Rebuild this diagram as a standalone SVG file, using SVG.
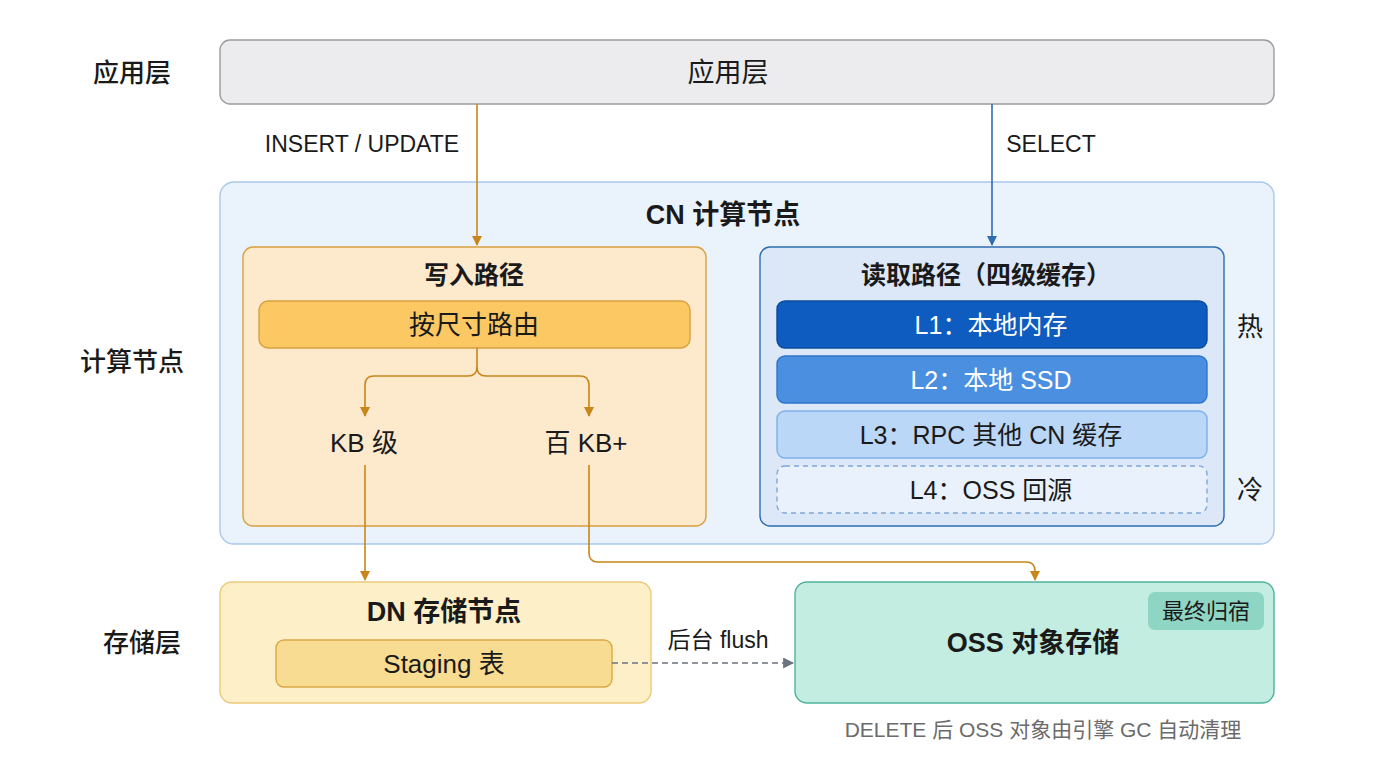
<svg xmlns="http://www.w3.org/2000/svg" width="1376" height="768" viewBox="0 0 1376 768">
<style>
text{font-family:"Liberation Sans","Noto Sans CJK SC",sans-serif;text-anchor:middle;dominant-baseline:central;fill:#1a1a1a}
.side{font-size:26px;font-weight:500}
.lbl{font-size:23px}
.title{font-size:27px;font-weight:600}
.sub{font-size:25px;font-weight:600}
.item{font-size:26px}
.li{font-size:25px}
.w{fill:#ffffff}
.orange{fill:none;stroke:#c8861a;stroke-width:1.6}
.blue{fill:none;stroke:#2f6cb0;stroke-width:1.6}
</style>
<defs>
<marker id="ao" viewBox="0 0 10 10" refX="9" refY="5" markerWidth="10" markerHeight="10" markerUnits="userSpaceOnUse" orient="auto"><path d="M0,0 L10,5 L0,10 z" fill="#c8861a"/></marker>
<marker id="ab" viewBox="0 0 10 10" refX="9" refY="5" markerWidth="10" markerHeight="10" markerUnits="userSpaceOnUse" orient="auto"><path d="M0,0 L10,5 L0,10 z" fill="#2f6cb0"/></marker>
<marker id="ag" viewBox="0 0 10 10" refX="9" refY="5" markerWidth="11" markerHeight="11" markerUnits="userSpaceOnUse" orient="auto"><path d="M0,0 L10,5 L0,10 z" fill="#6b7280"/></marker>
</defs>
<rect width="1376" height="768" fill="#ffffff"/>
<g id="side-labels">
<text class="side" x="132" y="73">应用层</text>
<text class="side" x="132" y="362">计算节点</text>
<text class="side" x="142" y="643">存储层</text>
</g>
<g id="app">
<rect x="220" y="40" width="1054" height="64" rx="10" fill="#ececee" stroke="#9a9ca0" stroke-width="1.4"/>
<text x="728" y="73" style="font-size:27px">应用层</text>
</g>
<g id="cn">
<rect x="220" y="182" width="1054" height="362" rx="14" fill="#eaf3fc" stroke="#a9c9ea" stroke-width="1.4"/>
<text class="title" x="723" y="215">CN 计算节点</text>
</g>
<g id="write">
<rect x="243" y="247" width="463" height="279" rx="10" fill="#fde9cc" stroke="#d9a040" stroke-width="1.4"/>
<text class="sub" x="474" y="275">写入路径</text>
</g>
<g id="route">
<rect x="259" y="301" width="431" height="47" rx="9" fill="#fbc863" stroke="#d9a040" stroke-width="1.4"/>
<text class="item" x="474" y="325">按尺寸路由</text>
</g>
<g id="kb"><text class="item" x="364" y="443">KB 级</text></g>
<g id="hkb"><text class="item" x="586" y="443">百 KB+</text></g>
<g id="read">
<rect x="760" y="247" width="464" height="279" rx="10" fill="#dce8f8" stroke="#2f6cb0" stroke-width="1.4"/>
<text class="sub" x="986" y="275">读取路径（四级缓存）</text>
</g>
<g id="l1">
<rect x="777" y="301" width="430" height="47" rx="8" fill="#0e5cbf" stroke="#0a4c9c" stroke-width="1.4"/>
<text class="li w" x="991" y="325">L1：本地内存</text>
</g>
<g id="l2">
<rect x="777" y="356" width="430" height="47" rx="8" fill="#4a8fe0" stroke="#2f75cc" stroke-width="1.4"/>
<text class="li w" x="991" y="380">L2：本地 SSD</text>
</g>
<g id="l3">
<rect x="777" y="411" width="430" height="47" rx="8" fill="#bad7f7" stroke="#7fb0e8" stroke-width="1.4"/>
<text class="li" x="991" y="435">L3：RPC 其他 CN 缓存</text>
</g>
<g id="l4">
<rect x="777" y="466" width="430" height="47" rx="8" fill="#e9f2fc" stroke="#7fa8d8" stroke-width="1.4" stroke-dasharray="5 4"/>
<text class="li" x="991" y="490">L4：OSS 回源</text>
</g>
<g id="temps">
<text class="item" x="1250" y="327">热</text>
<text class="item" x="1250" y="490">冷</text>
</g>
<g id="dn">
<rect x="220" y="582" width="431" height="121" rx="12" fill="#fdf0c9" stroke="#ecc97a" stroke-width="1.4"/>
<text class="title" x="444" y="612">DN 存储节点</text>
</g>
<g id="staging">
<rect x="276" y="640" width="336" height="47" rx="8" fill="#f8dc91" stroke="#d9a848" stroke-width="1.4"/>
<text class="item" x="444" y="664">Staging 表</text>
</g>
<g id="oss">
<rect x="795" y="582" width="479" height="121" rx="12" fill="#c4ede2" stroke="#4fb39a" stroke-width="1.4"/>
<text class="title" x="1033" y="643">OSS 对象存储</text>
<rect x="1148" y="592" width="116" height="38" rx="7" fill="#8fd5c3"/>
<text x="1206" y="611" style="font-size:22px">最终归宿</text>
</g>
<g id="note">
<text x="1043" y="729" style="font-size:21px;fill:#6b6b6b">DELETE 后 OSS 对象由引擎 GC 自动清理</text>
</g>
<g id="connectors">
<path class="orange" d="M477,104 V245" marker-end="url(#ao)"/>
<text class="lbl" x="362" y="144">INSERT / UPDATE</text>
<path class="blue" d="M992,104 V245" marker-end="url(#ab)"/>
<text class="lbl" x="1051" y="144">SELECT</text>
<path class="orange" d="M477,348 V367 Q477,376 468,376 H374 Q365,376 365,385 V416" marker-end="url(#ao)"/>
<path class="orange" d="M477,367 Q477,376 486,376 H580 Q589,376 589,385 V416" marker-end="url(#ao)"/>
<path class="orange" d="M365,465 V580" marker-end="url(#ao)"/>
<path class="orange" d="M589,465 V553 Q589,562 598,562 H1026 Q1035,562 1035,571 V580" marker-end="url(#ao)"/>
<path d="M612,663 H793" fill="none" stroke="#6b7280" stroke-width="1.6" stroke-dasharray="6 4" marker-end="url(#ag)"/>
<text class="lbl" x="718" y="640">后台 flush</text>
</g>
</svg>
